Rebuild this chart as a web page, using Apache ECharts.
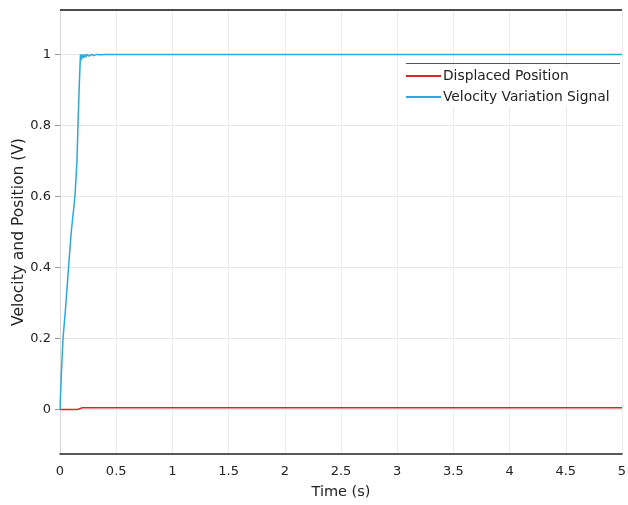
<!DOCTYPE html>
<html><head><meta charset="utf-8">
<script src="https://cdn.jsdelivr.net/npm/echarts@6/dist/echarts.min.js"></script>
<style>html,body{margin:0;padding:0;background:#fff}#c{width:628px;height:505px}</style>
</head><body><div id="c"></div>
<script>
const xTicks = [0,0.5,1,1.5,2,2.5,3,3.5,4,4.5,5];
const yTicks = [0,0.2,0.4,0.6,0.8,1];
const velT = [0,0.012,0.027,0.053,0.076,0.1,0.133,0.151,0.16,0.17,0.182,0.19,0.2,0.21,0.22,0.23,0.24,0.26,0.28,0.3,0.33,0.36,0.4,5];
const velV = [0,0.1,0.2,0.3,0.4,0.5,0.6,0.7,0.8,0.9,1.0,0.985,1.0,0.99,1.0,0.992,1.0,0.995,1.0,0.997,1.0,0.999,1.0,1.0];
const posT = [0,0.15,0.18,0.2,5];
const posV = [0,0.0,0.003,0.005,0.005];

const chart = echarts.init(document.getElementById('c'));
const font = 'DejaVu Sans, Verdana, sans-serif';
chart.setOption({
  animation:false,
  backgroundColor:'#fff',
  grid:{left:60,right:6,top:10,bottom:51,containLabel:false,outerBoundsMode:'none'},
  legend:{
    left:404, top:67, orient:'vertical', itemGap:7, itemWidth:35, itemHeight:2,
    icon:'rect', backgroundColor:'#fff', borderWidth:0,
    padding:[2,2,2,2],
    textStyle:{fontFamily:font,fontSize:13.8,color:'#222',padding:[0,0,0,-3]},
    data:['Displaced Position','Velocity Variation Signal']
  },
  xAxis:{
    type:'value', min:0, max:5, interval:0.5,
    name:'Time (s)', nameLocation:'middle', nameGap:31, nameMoveOverlap:false,
    nameTextStyle:{fontFamily:font,fontSize:14.5,color:'#222'},
    axisLine:{show:true,onZero:false,lineStyle:{color:'#222',width:1.5}},
    axisTick:{show:false},
    axisLabel:{fontFamily:font,fontSize:13,color:'#222',margin:11,
      customValues:xTicks, formatter:v=>String(v)},
    splitLine:{show:true,lineStyle:{color:'#ececec',width:1}}
  },
  yAxis:[{
    type:'value', min:-0.125, max:1.125,
    name:'Velocity and Position (V)', nameLocation:'middle', nameGap:33, nameMoveOverlap:false,
    nameTextStyle:{fontFamily:font,fontSize:15.5,color:'#222'},
    axisLine:{show:true,onZero:false,lineStyle:{color:'#d8d8d8',width:1}},
    axisTick:{show:true,inside:false,length:5,lineStyle:{color:'#999'},customValues:yTicks},
    axisLabel:{fontFamily:font,fontSize:13,color:'#222',margin:9,
      customValues:yTicks, formatter:v=>String(Math.round(v*10)/10)},
    splitLine:{show:true,lineStyle:{color:'#e6e6e6',width:1}}
  }],
  series:[
    {name:'Displaced Position',type:'line',showSymbol:false,symbol:'none',
     lineStyle:{color:'#d9262b',width:1.5},itemStyle:{color:'#d9262b'},
     data:posT.map((t,i)=>[t,posV[i]]), z:3,
     markLine:{silent:true,symbol:'none',label:{show:false},
       lineStyle:{color:'#111',type:'solid',width:1.5},
       data:[[{coord:[0,1.125]},{coord:[5,1.125]}]]}},
    {name:'Velocity Variation Signal',type:'line',showSymbol:false,symbol:'none',
     lineStyle:{color:'#2aa9dc',width:1.5},itemStyle:{color:'#2aa9dc'},
     data:velT.map((t,i)=>[t,velV[i]]), z:4}
  ],
  graphic:[{type:'line',shape:{x1:406,y1:63.5,x2:620,y2:63.5},style:{stroke:'#555',lineWidth:1},z:100}]
});
</script></body></html>
